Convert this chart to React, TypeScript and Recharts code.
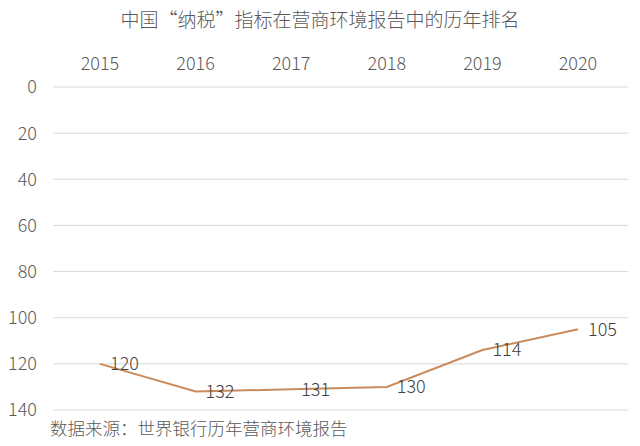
import { LineChart, Line, XAxis, YAxis, CartesianGrid, LabelList } from 'recharts';

const years = ['2015', '2016', '2017', '2018', '2019', '2020'];
const ranks = [120, 132, 131, 130, 114, 105];
const yTicks = [0, 20, 40, 60, 80, 100, 120, 140];

const data = years.map((y, i) => ({ year: y, rank: ranks[i] }));

const font = '"Noto Sans CJK SC", "Noto Sans", sans-serif';

export default function App() {
  return (
    <div style={{ position: 'fixed', left: 0, top: 0, width: 640, height: 446, background: '#fff', fontFamily: font, fontWeight: 300 }}>
      <div style={{ position: 'absolute', top: 5, left: 0, width: 640, textAlign: 'center', fontSize: 19, color: '#595959' }}>
        中国“纳税”指标在营商环境报告中的历年排名
      </div>
      <LineChart width={640} height={446} data={data} margin={{ top: 47, right: 12, bottom: 36, left: 0 }}>
        <CartesianGrid vertical={false} stroke="#d9d9d9" />
        <XAxis
          dataKey="year"
          orientation="top"
          height={40}
          axisLine={false}
          tickLine={false}
          tickMargin={11}
          padding={{ left: 47, right: 50 }}
          tick={{ fill: '#595959', fontSize: 18, fontFamily: font, fontWeight: 300 }}
        />
        <YAxis
          reversed
          domain={[0, 140]}
          ticks={yTicks}
          width={53}
          axisLine={false}
          tickLine={false}
          tickMargin={10}
          tick={{ fill: '#595959', fontSize: 18, fontFamily: font, fontWeight: 300 }}
        />
        <Line type="linear" dataKey="rank" stroke="#c98b5c" strokeWidth={2} dot={false} isAnimationActive={false}>
          <LabelList dataKey="rank" position="right" offset={10} fill="#404040" fontSize={18} fontFamily={font} fontWeight={300} />
        </Line>
      </LineChart>
      <div style={{ position: 'absolute', top: 415, left: 50, fontSize: 17.5, color: '#595959' }}>
        数据来源：世界银行历年营商环境报告
      </div>
    </div>
  );
}
